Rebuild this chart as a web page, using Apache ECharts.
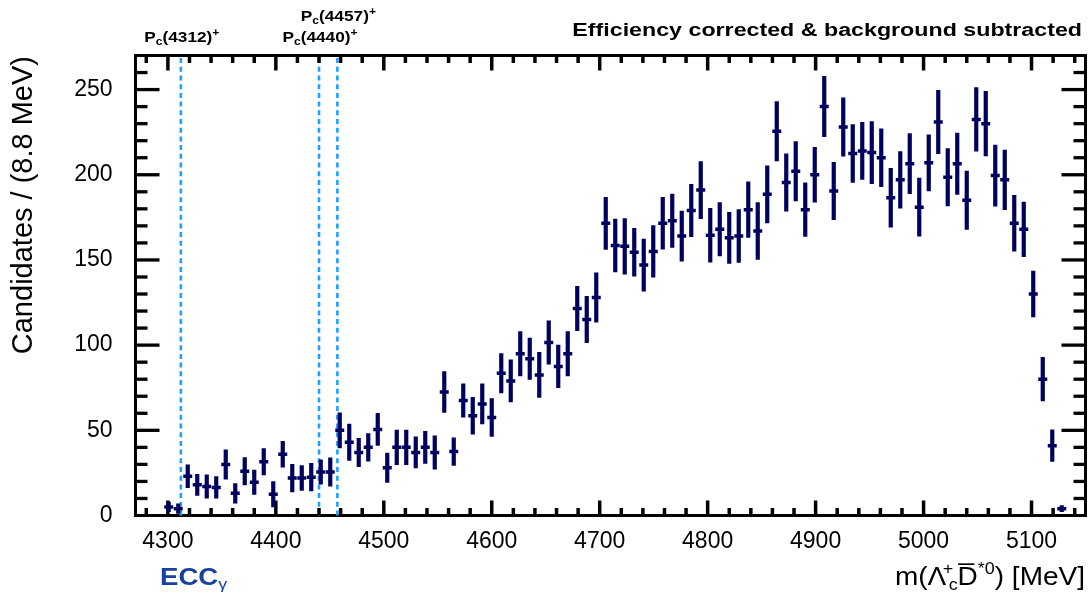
<!DOCTYPE html>
<html><head><meta charset="utf-8">
<script src="https://cdn.jsdelivr.net/npm/echarts@6/dist/echarts.min.js"></script>
<style>html,body{margin:0;padding:0;background:#fff}#c{width:1090px;height:604px}</style>
</head><body><div id="c"></div>
<script>
// ---- data ----
const binLow = 4270, binHigh = 5150, binWidth = 8.8, firstBin = 3;
const counts = [5, 4, 23, 18, 17, 16.5, 30, 13, 26, 19.5,
  31.5, 12.5, 36, 22, 22, 22.5, 25.5, 25.5, 50, 43,
  37, 40, 50.5, 28, 40, 40, 37, 40, 37, 72.5,
  37.5, 67.5, 58.5, 65.5, 57.5, 83.5, 79, 95, 92, 82.5,
  101.5, 87.5, 95, 121.5, 115, 128, 171.5, 158.5, 158, 154.5,
  147, 155, 171.5, 173, 164, 179, 191, 164.5, 168, 163,
  164, 179.5, 167, 188.5, 225.5, 195.5, 202, 179.5, 200, 240,
  190.5, 228, 212.5, 214, 213, 210, 186.5, 197, 206.5, 181,
  207, 231, 198.5, 206.5, 185, 232.5, 230, 199.5, 197, 171.5,
  168, 130, 80, 41, 4];
const errors = [3, 3, 6.9, 6.4, 7, 6.5, 8.8, 5.9, 8.2, 7.3,
  7.9, 7.6, 7.8, 8.3, 7.5, 8.3, 7.3, 8.5, 10.5, 10.8,
  8.5, 8.3, 9.6, 8.8, 10.3, 10.3, 9.3, 9.6, 10, 12.2,
  8.3, 10, 11, 12, 11.3, 11.8, 12.5, 13.2, 12.3, 13.4,
  12.9, 12.7, 13.2, 13.2, 13.8, 14.7, 15.5, 15.7, 16.5, 14.2,
  15.5, 15.3, 15.4, 15.8, 14.9, 15.6, 16.9, 16, 15.9, 15.2,
  15.7, 16.5, 16.9, 17, 17.6, 17, 17.6, 15.9, 16.3, 17.9,
  17, 17.3, 17.2, 17, 18.4, 17.2, 17.5, 16.8, 17.8, 17.2,
  16.7, 18.8, 17, 18.2, 17.3, 18.8, 19.2, 18.1, 17.7, 16.6,
  16.2, 13.6, 13, 9.5, 2];
const xTickLabels = [4300, 4400, 4500, 4600, 4700, 4800, 4900, 5000, 5100];
const yTickLabels = [0, 50, 100, 150, 200, 250];
const yMin = 0, yMax = 270;
const pcNames = ['4312', '4440', '4457'];
const pcMasses = [4312, 4440, 4457];
const pcRows = [0, 0, 1];

// ---- style ----
const FONT = '"Liberation Sans", Arial, Helvetica, sans-serif';
const NAVY = '#00005f';
const AZURE = '#1ea2ff';

const points = counts.map((v, k) => [binLow + binWidth * (firstBin + k + 0.5), v, errors[k]]);

// tick lists (axis decoration)
const xTickData = [];
for (let v = 4280; v < binHigh; v += 20) xTickData.push([v, yMin, xTickLabels.includes(v) ? 1 : 0]);
const yTickData = [];
for (let v = 10; v < yMax; v += 10) yTickData.push([binLow, v, yTickLabels.includes(v) ? 1 : 0]);

const pcData = pcMasses.map((m, i) => [m, yMin, pcRows[i], i]);

const chart = echarts.init(document.getElementById('c'), null, {renderer: 'canvas'});

const pcRich = {
  p: {fontFamily: FONT, fontWeight: 'bold', fontSize: 15, lineHeight: 20, fill: '#000'},
  s: {fontFamily: FONT, fontWeight: 'bold', fontSize: 10.5, lineHeight: 10, verticalAlign: 'bottom', fill: '#000'},
  u: {fontFamily: FONT, fontWeight: 'bold', fontSize: 10.5, lineHeight: 10, verticalAlign: 'top', fill: '#000'}
};

chart.setOption({
  animation: false,
  backgroundColor: '#fff',
  grid: {left: 135.5, right: 4.5, top: 55.5, bottom: 88.5, show: true,
    borderColor: '#000', borderWidth: 3, backgroundColor: 'transparent'},
  xAxis: {type: 'value', min: binLow, max: binHigh, interval: 10,
    axisLine: {show: false}, axisTick: {show: false}, splitLine: {show: false},
    axisLabel: {margin: 15, fontSize: 23, fontFamily: FONT, color: '#000',
      formatter: v => xTickLabels.includes(Math.round(v)) ? String(Math.round(v)) : ''}},
  yAxis: {type: 'value', min: yMin, max: yMax, interval: 10,
    axisLine: {show: false}, axisTick: {show: false}, splitLine: {show: false},
    axisLabel: {margin: 23, fontSize: 23, fontFamily: FONT, color: '#000',
      formatter: v => yTickLabels.includes(Math.round(v)) ? String(Math.round(v)) : ''}},
  graphic: [
    {type: 'text', x: 24, y: 56, rotation: Math.PI / 2,
      style: {text: 'Candidates / (8.8 MeV)', font: '29px ' + FONT, fill: '#000',
        align: 'right', verticalAlign: 'middle'}},
    {type: 'text', x: 1082, y: 31, scaleX: 1.29,
      style: {text: 'Efficiency corrected & background subtracted', font: 'bold 18px ' + FONT,
        fill: '#000', align: 'right', verticalAlign: 'middle'}},
    {type: 'text', x: 160, y: 579, scaleX: 1.2,
      style: {text: '{b|ECC}{g|γ}', align: 'left', verticalAlign: 'middle',
        rich: {
          b: {fontFamily: FONT, fontWeight: 'bold', fontSize: 23, lineHeight: 26, fill: '#1840a0'},
          g: {fontFamily: FONT, fontSize: 15, lineHeight: 14, verticalAlign: 'bottom', fill: '#1840a0'}
        }}},
    {type: 'text', x: 1085, y: 578, scaleX: 1.12,
      style: {text: '{t|m(Λ}{g| }{u0|+}{s|c}{t|D\u0305}{u|*0}{t|) [MeV]}', align: 'right', verticalAlign: 'middle',
        rich: {
          t: {fontFamily: FONT, fontSize: 25, lineHeight: 32, fill: '#000'},
          g: {fontFamily: FONT, fontSize: 4, lineHeight: 4, fill: '#000'},
          u0: {fontFamily: FONT, fontSize: 16, lineHeight: 16, verticalAlign: 'top', align: 'left', width: 1, fill: '#000'},
          s: {fontFamily: FONT, fontSize: 16, lineHeight: 16, verticalAlign: 'bottom', fill: '#000'},
          u: {fontFamily: FONT, fontSize: 16, lineHeight: 16, verticalAlign: 'top', fill: '#000'}
        }}}
  ],
  series: [
    {
      name: 'ticksX', type: 'custom', silent: true, clip: false, data: xTickData,
      encode: {x: 0, y: 1}, z: 5,
      renderItem(params, api) {
        const v = api.value(0), major = api.value(2);
        const b = api.coord([v, yMin]), t = api.coord([v, yMax]);
        const len = major ? 15 : 7.5;
        const st = {stroke: '#000', lineWidth: 3.5};
        return {type: 'group', children: [
          {type: 'line', shape: {x1: b[0], y1: b[1], x2: b[0], y2: b[1] - len}, style: st},
          {type: 'line', shape: {x1: t[0], y1: t[1], x2: t[0], y2: t[1] + len}, style: st}
        ]};
      }
    },
    {
      name: 'ticksY', type: 'custom', silent: true, clip: false, data: yTickData,
      encode: {x: 0, y: 1}, z: 5,
      renderItem(params, api) {
        const v = api.value(1), major = api.value(2);
        const l = api.coord([binLow, v]), r = api.coord([binHigh, v]);
        const len = major ? 24 : 12;
        const st = {stroke: '#000', lineWidth: 3.3};
        return {type: 'group', children: [
          {type: 'line', shape: {x1: l[0], y1: l[1], x2: l[0] + len, y2: l[1]}, style: st},
          {type: 'line', shape: {x1: r[0], y1: r[1], x2: r[0] - len, y2: r[1]}, style: st}
        ]};
      }
    },
    {
      name: 'Pc states', type: 'custom', silent: true, clip: false, data: pcData,
      encode: {x: 0, y: 1}, z: 3,
      renderItem(params, api) {
        const m = api.value(0), row = api.value(2), idx = api.value(3);
        const b = api.coord([m, yMin]), t = api.coord([m, yMax]);
        return {type: 'group', children: [
          {type: 'line', shape: {x1: b[0], y1: b[1], x2: t[0], y2: t[1]},
            style: {stroke: AZURE, lineWidth: 2.6, lineDash: [5, 3.7]}},
          {type: 'text', x: t[0] + 1, y: t[1] - 8 - row * 21, scaleX: 1.15,
            style: {text: '{p|P}{s|c}{p|(' + pcNames[idx] + ')}{u|+}', rich: pcRich,
              align: 'center', verticalAlign: 'bottom'}}
        ]};
      }
    },
    {
      name: 'Data', type: 'custom', clip: true, data: points,
      encode: {x: 0, y: 1}, z: 10,
      renderItem(params, api) {
        const x = api.value(0), y = api.value(1), e = api.value(2);
        const p = api.coord([x, y]), lo = api.coord([x, y - e]), hi = api.coord([x, y + e]);
        return {type: 'group', children: [
          {type: 'line', shape: {x1: p[0], y1: lo[1], x2: p[0], y2: hi[1]},
            style: {stroke: NAVY, lineWidth: 4.2}},
          {type: 'line', shape: {x1: p[0] - 4.5, y1: p[1], x2: p[0] + 4.5, y2: p[1]},
            style: {stroke: NAVY, lineWidth: 3.5}}
        ]};
      }
    }
  ]
});
</script>
</body></html>
